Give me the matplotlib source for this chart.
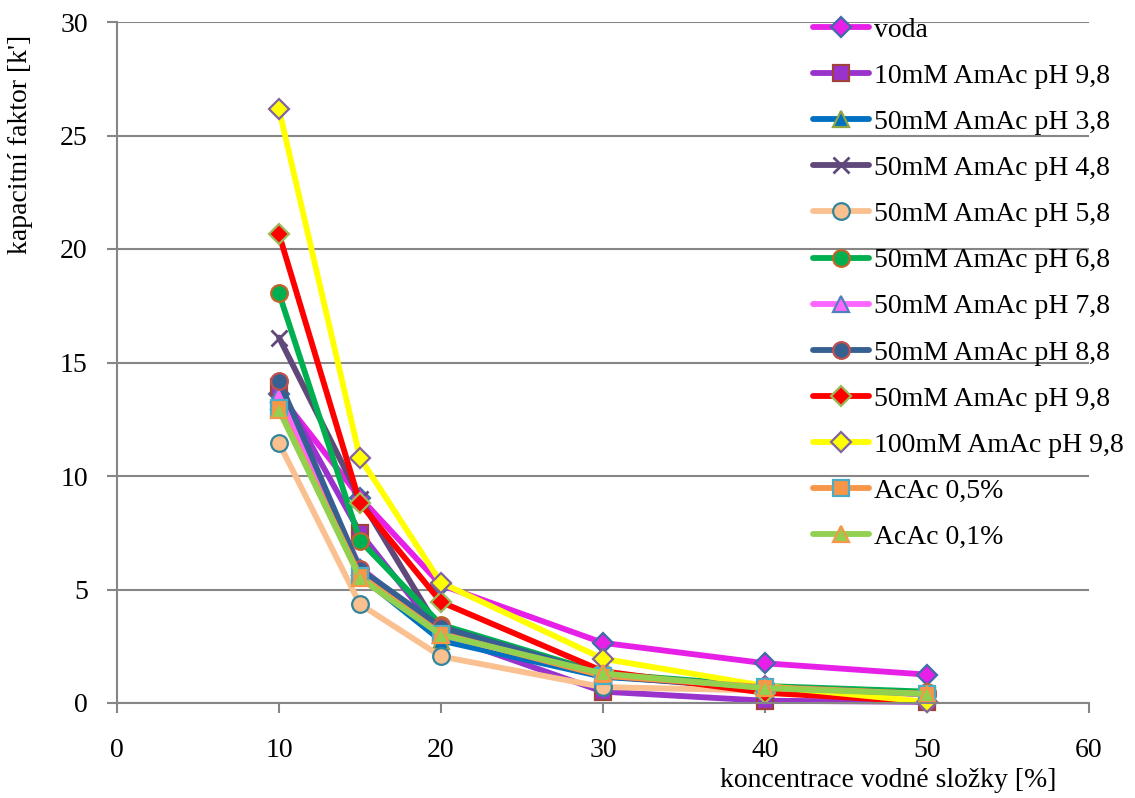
import matplotlib
matplotlib.use("Agg")
import matplotlib.pyplot as plt

plt.rcParams['font.family'] = ['Liberation Serif', 'DejaVu Serif']

# water-component concentration [%]
conc = [10, 15, 20, 30, 40, 50]

# capacity factor k' for each mobile-phase additive
voda = [13.6, 9.05, 5.2, 2.65, 1.75, 1.25]
amac10_98 = [13.9, 7.5, 3.0, 0.5, 0.1, 0.05]
amac50_38 = [13.3, 5.6, 2.75, 1.15, 0.7, 0.4]
amac50_48 = [16.1, 9.0, 3.1, 1.2, 0.6, 0.4]
amac50_58 = [11.45, 4.35, 2.05, 0.7, 0.55, 0.4]
amac50_68 = [18.05, 7.15, 3.45, 1.3, 0.75, 0.5]
amac50_78 = [13.6, 6.0, 3.0, 1.3, 0.6, 0.4]
amac50_88 = [14.2, 5.9, 3.35, 1.25, 0.7, 0.4]
amac50_98 = [20.65, 8.8, 4.45, 1.4, 0.45, 0.05]
amac100_98 = [26.15, 10.8, 5.3, 1.95, 0.75, 0.05]
acac05 = [13.0, 5.6, 3.05, 1.2, 0.7, 0.4]
acac01 = [12.9, 5.5, 3.0, 1.3, 0.65, 0.4]

labels = ["voda", "10mM AmAc pH 9,8", "50mM AmAc pH 3,8", "50mM AmAc pH 4,8",
          "50mM AmAc pH 5,8", "50mM AmAc pH 6,8", "50mM AmAc pH 7,8",
          "50mM AmAc pH 8,8", "50mM AmAc pH 9,8", "100mM AmAc pH 9,8",
          "AcAc 0,5%", "AcAc 0,1%"]
series = [voda, amac10_98, amac50_38, amac50_48, amac50_58, amac50_68,
          amac50_78, amac50_88, amac50_98, amac100_98, acac05, acac01]

# (line colour, marker, face colour, edge colour, marker size)
styles = [
    ("#E620E6", "D", "#E620E6", "#3F6CA8", 10),
    ("#9933CC", "s", "#9933CC", "#A0403F", 11),
    ("#0070C0", "^", "#0070C0", "#8FA545", 12),
    ("#60497A", "x", "#60497A", "#60497A", 12),
    ("#FAC090", "o", "#FAC090", "#31859C", 12),
    ("#00B050", "o", "#00B050", "#C0652A", 12),
    ("#FF66FF", "^", "#FF66FF", "#4F81BD", 12),
    ("#376092", "o", "#376092", "#C0504D", 12),
    ("#FF0000", "D", "#FF0000", "#9BBB59", 10),
    ("#FFFF00", "D", "#FFFF00", "#8064A2", 10),
    ("#F79646", "s", "#F79646", "#4BACC6", 11),
    ("#92D050", "^", "#92D050", "#F79646", 12),
]

fig = plt.figure(figsize=(11.35, 7.98), dpi=100)
ax = fig.add_axes([117 / 1135, 95 / 798, 972 / 1135, 681 / 798])

handles = []
for vals, lab, (lc, mk, fc, ec, ms) in zip(series, labels, styles):
    h, = ax.plot(conc, vals, color=lc, lw=4.2, marker=mk, markersize=ms,
                 markerfacecolor=fc, markeredgecolor=ec,
                 markeredgewidth=2 if mk == "x" else 1.6,
                 label=lab, solid_capstyle="round", clip_on=False)
    handles.append(h)

grey = "#868686"
ax.set_xlim(0, 60)
ax.set_ylim(0, 30)
ax.set_xticks(range(0, 61, 10))
ax.set_yticks(range(0, 31, 5))
ax.yaxis.grid(True, color=grey, lw=1.5)
ax.set_axisbelow(True)
for s in ("top", "right"):
    ax.spines[s].set_visible(False)
for s in ("left", "bottom"):
    ax.spines[s].set_color(grey)
    ax.spines[s].set_linewidth(1.5)
ax.tick_params(axis="both", direction="out", length=7, width=1.5, color=grey,
               labelsize=20)
ax.tick_params(axis="x", pad=18)
ax.tick_params(axis="y", pad=14)

ax.set_xlabel("koncentrace vodné složky [%]", fontsize=20)
ax.xaxis.set_label_coords((888 - 117) / 972, -0.095)
ax.set_ylabel("kapacitní faktor [k']", fontsize=20)
ax.yaxis.set_label_coords(-0.086, 0.82)

fig.legend(handles=handles, loc="upper left", bbox_to_anchor=(802 / 1135, 1 - 6 / 798),
           frameon=False, fontsize=20, handlelength=2.0, handletextpad=0.2,
           labelspacing=0.745, borderaxespad=0.0)

fig.savefig("out.png", dpi=100)
